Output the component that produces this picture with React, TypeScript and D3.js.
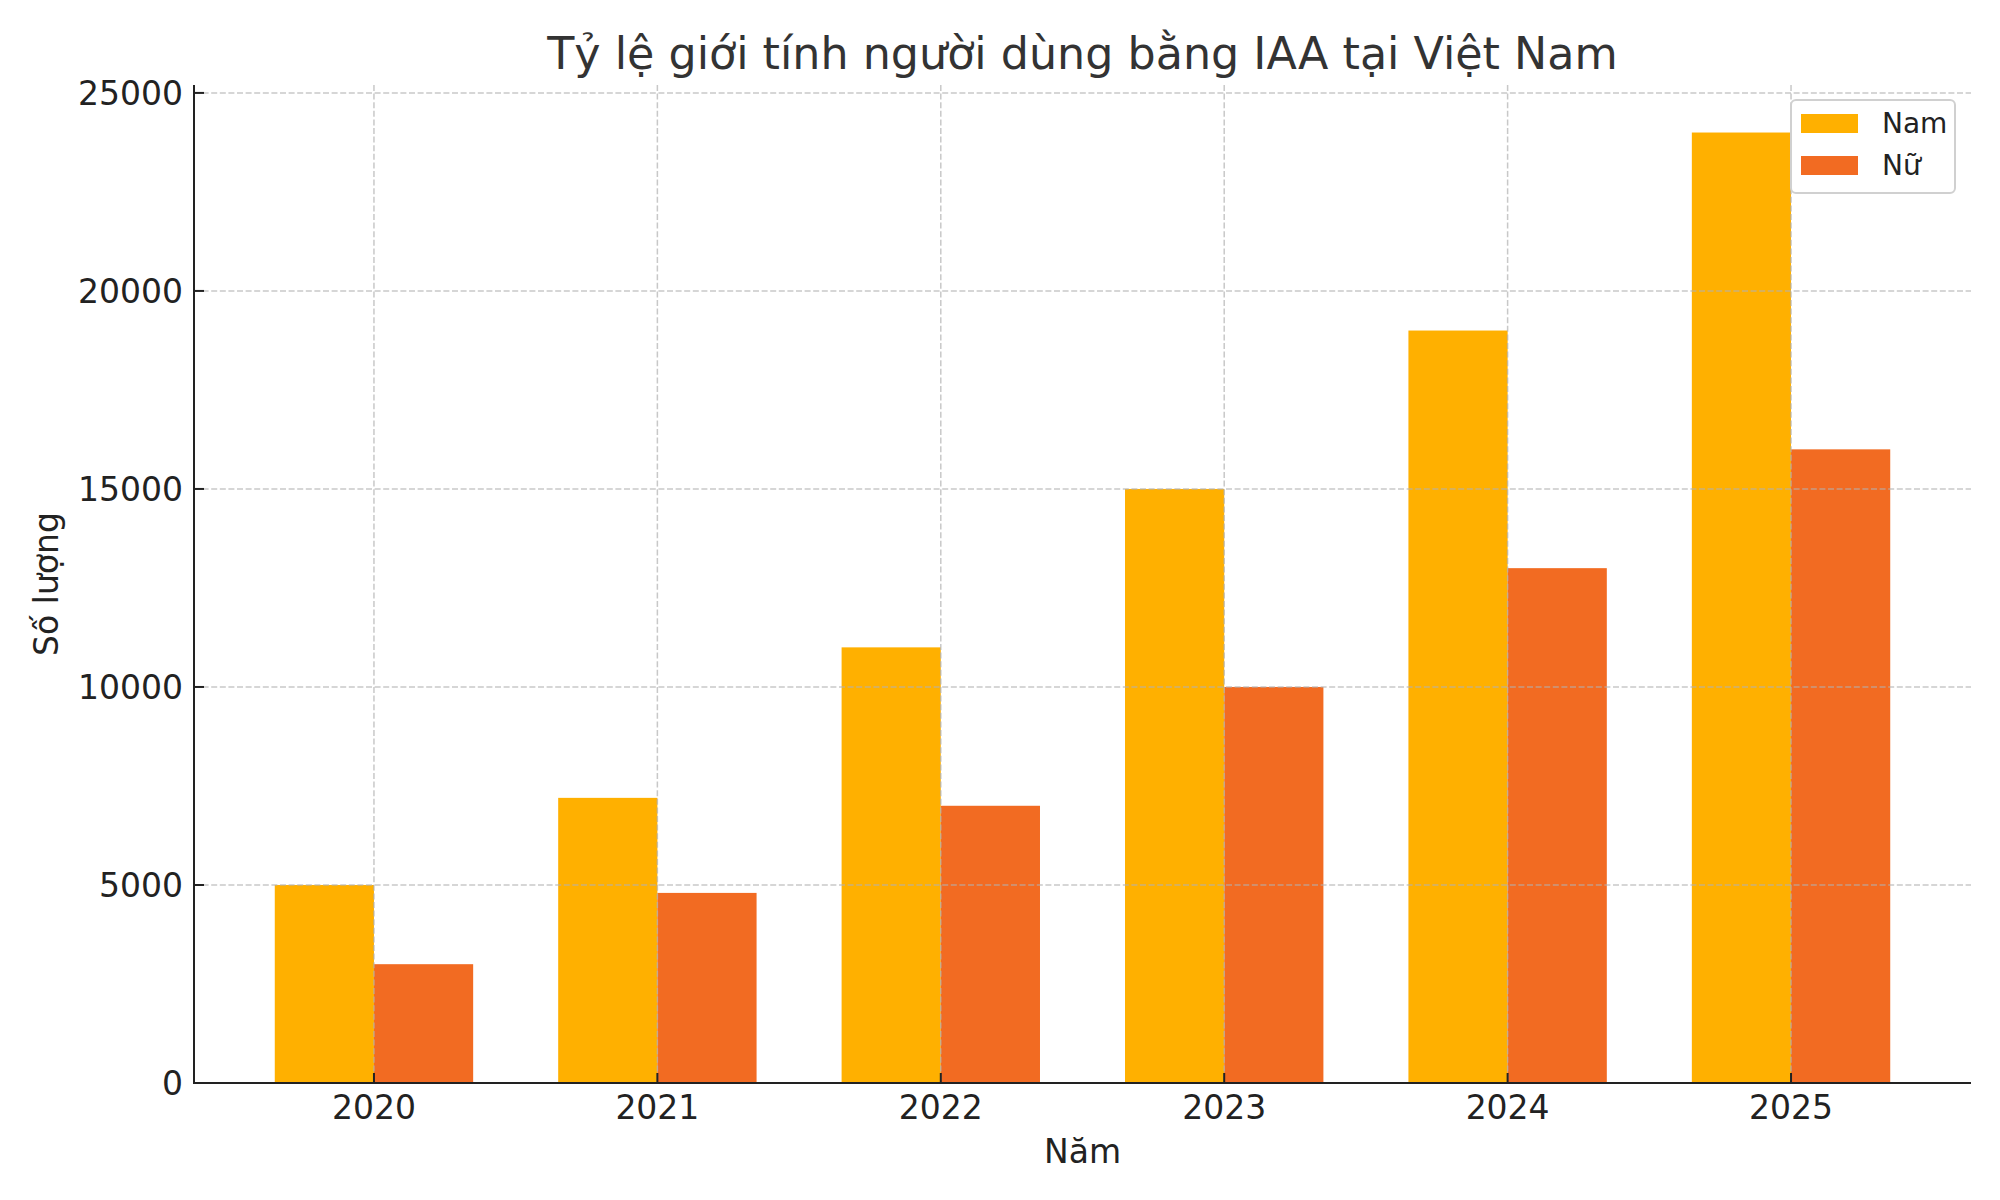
import { useEffect } from 'react';
import * as d3 from 'd3';

const years = ['2020', '2021', '2022', '2023', '2024', '2025'];
const maleValues = [5000, 7200, 11000, 15000, 19000, 24000];
const femaleValues = [3000, 4800, 7000, 10000, 13000, 16000];
const yTicks = [0, 5000, 10000, 15000, 20000, 25000];
const seriesNames = ['Nam', 'Nữ'];
const seriesColors = ['#FFB000', '#F26B22'];

const W = 2000;
const H = 1200;
const margin = { top: 85, right: 29, bottom: 117, left: 194 };
const font = '"DejaVu Sans", sans-serif';
const barWidth = 0.35;

export default function App() {
  useEffect(() => {
    document.body.style.margin = '0';
  }, []);

  const x = d3
    .scaleLinear()
    .domain([-0.635, years.length - 1 + 0.635])
    .range([margin.left, W - margin.right]);

  const y = d3
    .scaleLinear()
    .domain([0, 25200])
    .range([H - margin.bottom, margin.top]);

  const series = [maleValues, femaleValues];
  const x0 = margin.left;
  const x1 = W - margin.right;
  const y0 = H - margin.bottom;
  const yTop = margin.top;

  return (
    <svg width={W} height={H} style={{ display: 'block', background: '#fff' }} fontFamily={font}>
      {/* bars */}
      {series.map((vals, si) =>
        vals.map((v, i) => {
          const left = si === 0 ? x(i - barWidth) : x(i);
          const right = si === 0 ? x(i) : x(i + barWidth);
          return (
            <rect
              key={`${si}-${i}`}
              x={left}
              y={y(v)}
              width={right - left}
              height={y(0) - y(v)}
              fill={seriesColors[si]}
            />
          );
        })
      )}

      {/* grid on top, faint */}
      <g stroke="#b0b0b0" strokeOpacity={0.7} strokeWidth={1.5} strokeDasharray="6,2.6">
        {yTicks.filter((t) => t > 0).map((t) => (
          <line key={`gy${t}`} x1={x0} x2={x1} y1={y(t)} y2={y(t)} />
        ))}
        {years.map((_, i) => (
          <line key={`gx${i}`} x1={x(i)} x2={x(i)} y1={yTop} y2={y0} />
        ))}
      </g>

      {/* axes */}
      <g stroke="#222" strokeWidth={2}>
        <line x1={x0} x2={x0} y1={yTop} y2={y0 + 1} />
        <line x1={x0 - 1} x2={x1} y1={y0} y2={y0} />
        {yTicks.map((t) => (
          <line key={`ty${t}`} x1={x0} x2={x0 + 10} y1={y(t)} y2={y(t)} />
        ))}
        {years.map((_, i) => (
          <line key={`tx${i}`} x1={x(i)} x2={x(i)} y1={y0} y2={y0 - 10} />
        ))}
      </g>

      {/* tick labels */}
      <g fill="#222" fontSize={33}>
        {yTicks.map((t) => (
          <text key={`ly${t}`} x={x0 - 11} y={y(t)} dy="0.36em" textAnchor="end">
            {t}
          </text>
        ))}
        {years.map((yr, i) => (
          <text key={`lx${yr}`} x={x(i)} y={1119} textAnchor="middle">
            {yr}
          </text>
        ))}
      </g>

      {/* axis labels */}
      <text x={(x0 + x1) / 2} y={1163} textAnchor="middle" fontSize={33} fill="#222">
        Năm
      </text>
      <text
        transform={`translate(58, ${(y0 + yTop) / 2}) rotate(-90)`}
        textAnchor="middle"
        fontSize={33}
        fill="#222"
      >
        Số lượng
      </text>

      {/* title */}
      <text x={(x0 + x1) / 2} y={69} textAnchor="middle" fontSize={44.4} fill="#333">
        Tỷ lệ giới tính người dùng bằng IAA tại Việt Nam
      </text>

      {/* legend */}
      <g>
        <rect x={1791} y={100} width={164} height={93} rx={5} fill="#fff" fillOpacity={0.8} stroke="#d0d0d0" strokeWidth={2} />
        {seriesNames.map((name, i) => (
          <g key={name}>
            <rect x={1801} y={114 + i * 42} width={57} height={19} fill={seriesColors[i]} />
            <text x={1882} y={133 + i * 42} fontSize={28} fill="#222">
              {name}
            </text>
          </g>
        ))}
      </g>
    </svg>
  );
}
